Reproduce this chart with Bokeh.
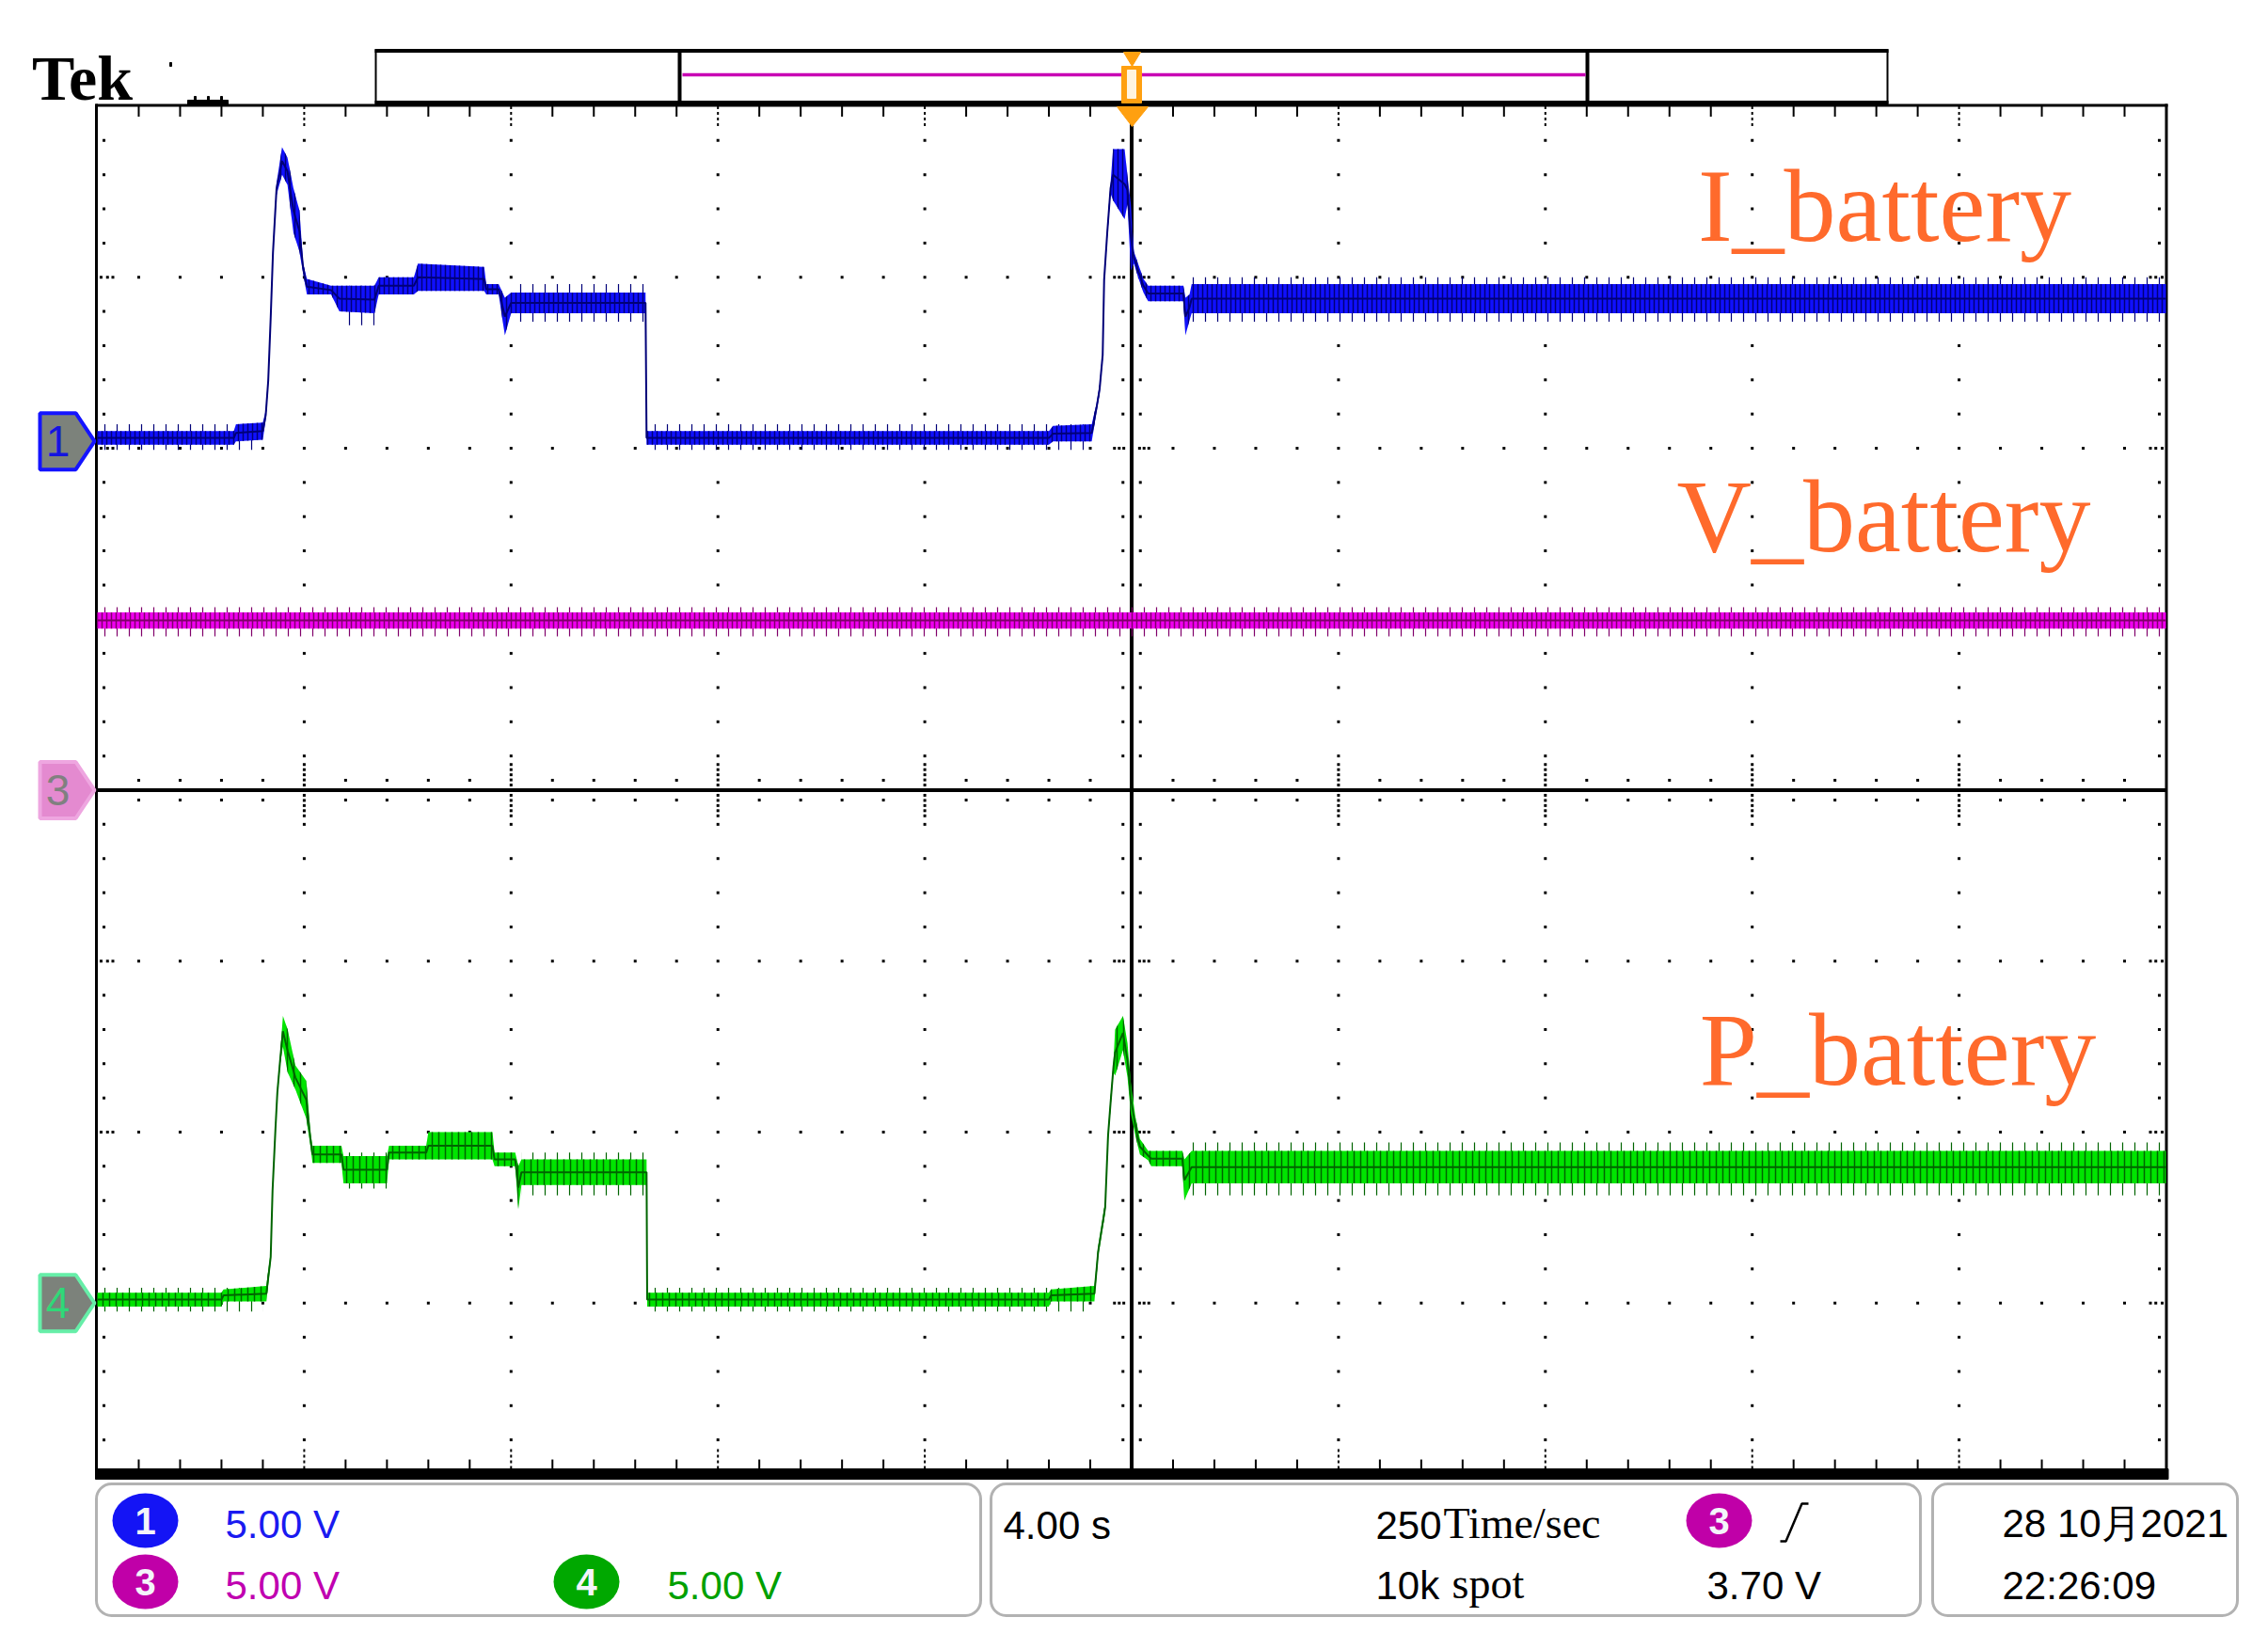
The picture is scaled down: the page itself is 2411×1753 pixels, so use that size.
from bokeh.plotting import figure
from bokeh.models import Range1d, BoxAnnotation
from bokeh.core.properties import value
from bokeh.embed import file_html
from bokeh.resources import INLINE

# ---------------- values (in graticule divisions) -------------
# x: 0..10 divisions (4.00 s/div, trigger at division 5); y: -4..4 divisions (5.00 V/div)
# Channel 1 : I_battery  (envelope of the noisy trace: low / high edge)
i_x  = [0.00, 0.66, 0.67, 0.80, 0.814, 0.826, 0.838, 0.849, 0.866, 0.893, 0.919, 0.948,
        0.977, 0.995, 1.013, 1.13, 1.17, 1.34, 1.36, 1.53, 1.55, 1.87, 1.88, 1.94, 1.97,
        2.00, 2.65, 2.655, 4.60, 4.62, 4.807, 4.83, 4.845, 4.86, 4.867, 4.882, 4.898,
        4.91, 4.966, 4.98, 4.996, 5.011, 5.034, 5.057, 5.08, 5.25, 5.26, 5.28, 5.29, 10.0]
i_lo = [2.02, 2.02, 2.04, 2.05, 2.17, 2.37, 2.74, 3.12, 3.48, 3.60, 3.54, 3.26,
        3.15, 3.02, 2.90, 2.90, 2.80, 2.79, 2.90, 2.90, 2.92, 2.92, 2.90, 2.90, 2.66,
        2.79, 2.79, 2.02, 2.02, 2.04, 2.04, 2.21, 2.32, 2.52, 2.96, 3.23, 3.49,
        3.45, 3.34, 3.43, 3.04, 3.08, 2.99, 2.91, 2.86, 2.86, 2.66, 2.75, 2.79, 2.79]
i_hi = [2.10, 2.10, 2.14, 2.15, 2.22, 2.42, 2.79, 3.17, 3.55, 3.76, 3.70, 3.52,
        3.39, 3.08, 2.99, 2.95, 2.95, 2.95, 3.00, 3.00, 3.08, 3.06, 2.96, 2.96, 2.88,
        2.91, 2.91, 2.10, 2.10, 2.13, 2.14, 2.26, 2.37, 2.57, 3.01, 3.29, 3.55,
        3.75, 3.75, 3.59, 3.43, 3.15, 3.07, 2.99, 2.95, 2.95, 2.88, 2.90, 2.96, 2.96]
# extent of the sparse noise spikes on the flat stretches (x from, x to, low, high)
i_spk_x0 = [0.00, 2.66, 1.17, 2.00, 5.29]
i_spk_x1 = [0.80, 4.80, 1.34, 2.65, 10.0]
i_spk_lo = [1.99, 1.99, 2.72, 2.74, 2.74]
i_spk_hi = [2.14, 2.14, 2.95, 2.96, 3.00]

# Channel 3 : V_battery
v_x  = [0.0, 10.0]
v_lo = [0.945, 0.945]
v_hi = [1.04, 1.04]
v_spk_x0 = [0.0]
v_spk_x1 = [10.0]
v_spk_lo = [0.90]
v_spk_hi = [1.07]

# Channel 4 : P_battery
p_x  = [0.00, 0.60, 0.61, 0.817, 0.838, 0.847, 0.861, 0.870, 0.885, 0.897, 0.92, 0.957,
        1.01, 1.03, 1.04, 1.18, 1.19, 1.40, 1.41, 1.59, 1.60, 1.91, 1.92, 2.02, 2.035,
        2.05, 2.655, 2.658, 4.60, 4.61, 4.82, 4.838, 4.872, 4.886, 4.898, 4.912, 4.92,
        4.958, 4.98, 4.996, 5.018, 5.04, 5.08, 5.095, 5.245, 5.255, 5.29, 10.0]
p_lo = [-3.02, -3.02, -2.99, -2.99, -2.76, -2.37, -2.01, -1.80, -1.59, -1.50, -1.65, -1.75,
        -1.92, -2.08, -2.18, -2.18, -2.30, -2.30, -2.16, -2.16, -2.16, -2.16, -2.20, -2.20, -2.45,
        -2.31, -2.31, -3.02, -3.02, -2.99, -2.99, -2.73, -2.47, -2.05, -1.86, -1.65, -1.67,
        -1.52, -1.68, -1.89, -2.02, -2.13, -2.165, -2.20, -2.20, -2.40, -2.30, -2.30]
p_hi = [-2.94, -2.94, -2.92, -2.90, -2.70, -2.31, -1.95, -1.74, -1.53, -1.32, -1.40, -1.61,
        -1.70, -2.00, -2.08, -2.08, -2.14, -2.14, -2.08, -2.08, -2.00, -2.00, -2.12, -2.12, -2.20,
        -2.16, -2.16, -2.94, -2.94, -2.92, -2.90, -2.67, -2.41, -1.99, -1.80, -1.59, -1.40,
        -1.32, -1.48, -1.71, -1.91, -2.04, -2.11, -2.11, -2.11, -2.16, -2.11, -2.11]
p_spk_x0 = [0.00, 2.66, 1.19, 2.05, 5.29]
p_spk_x1 = [0.80, 4.80, 1.40, 2.65, 10.0]
p_spk_lo = [-3.05, -3.05, -2.33, -2.37, -2.37]
p_spk_hi = [-2.91, -2.91, -2.12, -2.12, -2.06]

# channel ground markers (divisions) and labels
ch_names   = ["1", "3", "4"]
ch_offsets = [2.04, 0.0, -3.0]
trace_labels = ["I_battery", "V_battery", "P_battery"]

# readout texts
scale_texts = ["5.00 V", "5.00 V", "5.00 V"]
time_scale = "4.00 s"
rate_num, rate_unit = "250", "Time/sec"
rec_num, rec_unit = "10k", "spot"
trig_level = "3.70 V"
date_text, time_text = "28 10月2021", "22:26:09"

# ---------------- layout (page pixels -> division coordinates) ----------------
X0, DX = 103.0, 219.9     # page x of division 0, pixels per division
Y0, DY = 839.5, 181.75    # page y of centre line, pixels per division
W, H = 2395, 1737
ORG = 0                   # page position of the figure's top-left corner


def fx(X):
    return (X - X0) / DX


def fy(Y):
    return (Y0 - Y) / DY


def fb(Y, size):
    # baseline position for text of a given pixel size
    return fy(Y - 0.36 * size)


p = figure(width=W, height=H, output_backend="svg", toolbar_location=None,
           x_range=Range1d(fx(ORG), fx(ORG + W)), y_range=Range1d(fy(ORG + H), fy(ORG)),
           min_border=0, x_axis_location=None, y_axis_location=None)
p.xgrid.visible = False
p.ygrid.visible = False
p.outline_line_color = None
p.background_fill_color = "white"
p.border_fill_color = "white"

# ---------------- graticule ----------------
minor_x = [round(0.2 * i, 1) for i in range(1, 50)]
minor_y = [round(-4 + 0.2 * i, 1) for i in range(1, 40)]
major_x = [1, 2, 3, 4, 6, 7, 8, 9]
major_y = [-3, -2, -1, 1, 2, 3]
dots_x, dots_y = [], []


def dot(x, y):
    dots_x.append(x)
    dots_y.append(y)


for y in major_y:
    for x in minor_x:
        if x != 5:
            dot(x, y)
    for x in (0.018, 0.049, 0.075, 9.925, 9.951, 9.982):
        dot(x, y)
    for off in (0.038, 0.06, 0.083):
        dot(5 - off, y)
        dot(5 + off, y)
for x in major_x:
    for y in minor_y:
        if y not in major_y and y != 0:
            dot(x, y)
for y in minor_y:
    if y not in major_y and y != 0:
        dot(0.032, y)
        dot(9.968, y)
        dot(5 - 0.042, y)
        dot(5 + 0.042, y)
for x in minor_x:
    if x not in major_x and x != 5:
        dot(x, 0.058)
        dot(x, -0.058)
for x in major_x:
    for k in (0.03, 0.06, 0.09, 0.12, 0.15):
        dot(x, k)
        dot(x, -k)
p.scatter(dots_x, dots_y, marker="square", size=3, color="black", line_width=0)

# border ticks
tmx = [x for x in minor_x if x not in major_x and x != 5]
p.segment(x0=tmx, y0=[4.0] * len(tmx), x1=tmx, y1=[3.94] * len(tmx), line_color="black", line_width=2)
p.segment(x0=tmx, y0=[-3.97] * len(tmx), x1=tmx, y1=[-3.915] * len(tmx), line_color="black", line_width=2)
p.segment(x0=major_x, y0=[4.0] * 8, x1=major_x, y1=[3.87] * 8, line_color="black", line_width=2, line_dash="3 3")
p.segment(x0=major_x, y0=[-3.97] * 8, x1=major_x, y1=[-3.85] * 8, line_color="black", line_width=2, line_dash="3 3")

# centre cross
p.segment(x0=[0, 5], y0=[0, -4], x1=[10, 5], y1=[0, 4], line_color="black", line_width=4)

# frame
p.segment(x0=[fx(101), fx(102), fx(2302.5)], y0=[fy(111.5), fy(110), fy(110)],
          x1=[fx(2304), fx(102), fx(2302.5)], y1=[fy(111.5), fy(1566), fy(1566)],
          line_color="black", line_width=3)
p.quad(left=fx(101), right=fx(2304.5), top=fy(1561), bottom=fy(1572), color="black")

# ---------------- traces ----------------
traces = [
    (v_x, v_lo, v_hi, (v_spk_x0, v_spk_x1, v_spk_lo, v_spk_hi), "#F000F0", "#80006A", 5),
    (i_x, i_lo, i_hi, (i_spk_x0, i_spk_x1, i_spk_lo, i_spk_hi), "#1010FF", "#000078", 5),
    (p_x, p_lo, p_hi, (p_spk_x0, p_spk_x1, p_spk_lo, p_spk_hi), "#00E400", "#006400", 7),
]
for xs, lo, hi, spk, bright, dark, hs in traces:
    x0s, x1s, slo, shi = spk
    p.quad(left=x0s, right=x1s, bottom=slo, top=shi, fill_alpha=0, line_color=None,
           hatch_pattern="|", hatch_color=dark, hatch_scale=13, hatch_weight=1.2)
    p.varea(x=xs, y1=lo, y2=hi, fill_color=bright, hatch_pattern="|",
            hatch_color=dark, hatch_scale=hs, hatch_weight=1.5)
    mid = [(a + b) / 2 for a, b in zip(lo, hi)]
    p.line(xs, mid, line_color=dark, line_width=2)

# trace labels
LS = 110
lab_cx = [fx(2003), fx(2002), fx(2017)]
lab_by = [fb(258, LS), fb(588, LS), fb(1155, LS)]
p.text(x=lab_cx, y=lab_by, text=trace_labels, text_font=value("Liberation Serif"),
       text_font_size=f"{LS}px", text_color="#FF6A2C", text_align="center",
       text_baseline="alphabetic")

# ---------------- top strip ----------------
p.text(x=[fx(87)], y=[fb(107, 68)], text=["Tek"], text_font=value("Liberation Serif"),
       text_font_style="bold", text_font_size="68px", text_color="black",
       text_align="center", text_baseline="alphabetic")
p.quad(left=fx(199), right=fx(242), top=fy(106), bottom=fy(110.5), color="black")
p.quad(left=[fx(206), fx(220), fx(234)], right=[fx(208), fx(222), fx(236)],
       top=[fy(102)] * 3, bottom=[fy(106)] * 3, color="black")
p.quad(left=fx(180), right=fx(182), top=fy(66), bottom=fy(70), color="black")

# record bar
p.segment(x0=[fx(398), fx(398)], y0=[fy(53.5), fy(108.5)], x1=[fx(2007), fx(2007)],
          y1=[fy(53.5), fy(108.5)], line_color="black", line_width=4)
p.segment(x0=[fx(399), fx(2006)], y0=[fy(52), fy(52)], x1=[fx(399), fx(2006)],
          y1=[fy(110), fy(110)], line_color="black", line_width=2)
p.segment(x0=[fx(722), fx(1687)], y0=[fy(55), fy(55)], x1=[fx(722), fx(1687)],
          y1=[fy(107), fy(107)], line_color="black", line_width=4)
p.segment(x0=[fx(725)], y0=[fy(79)], x1=[fx(1685)], y1=[fy(79)], line_color="#C800B4", line_width=3.5)

# trigger position markers
orange = "#FFA010"
p.patch([fx(1194), fx(1212), fx(1203)], [fy(55), fy(55), fy(70)], color=orange)
p.quad(left=fx(1192), right=fx(1213), top=fy(70), bottom=fy(109), color=orange)
p.quad(left=fx(1198), right=fx(1207), top=fy(74), bottom=fy(104), color="#FFF4E0")
p.patch([fx(1187), fx(1220), fx(1203)], [fy(113), fy(113), fy(134)], color=orange)

# ---------------- channel ground markers ----------------
sans = value("Liberation Sans")
mk_fill = ["#7C827B", "#E48AD0", "#7C827B"]
mk_line = ["#1414FF", "#EEA6E0", "#66EEA8"]
mk_text = ["#1414E0", "#808080", "#30D878"]
for name, off, fc, lc, tc in zip(ch_names, ch_offsets, mk_fill, mk_line, mk_text):
    Yc = Y0 - off * DY
    xs = [fx(42), fx(80), fx(100), fx(80), fx(42)]
    ys = [fy(Yc - 30), fy(Yc - 30), fy(Yc), fy(Yc + 30), fy(Yc + 30)]
    p.patch(xs, ys, fill_color=fc, line_color=lc, line_width=4)
    p.text(x=[fx(61)], y=[off], text=[name], text_font=sans,
           text_font_size="46px", text_color=tc, text_align="center", text_baseline="middle")

# ---------------- bottom readout ----------------
for l, r in ((102, 1042), (1053, 2041), (2054, 2378)):
    p.add_layout(BoxAnnotation(left=fx(l), right=fx(r), top=fy(1577), bottom=fy(1717),
                               fill_alpha=0, line_color="black", line_width=3, border_radius=16))

circ_x = [fx(154), fx(154), fx(623), fx(1827)]
circ_y = [fy(1616), fy(1681), fy(1681), fy(1616)]
circ_c = ["#1414F5", "#C000A8", "#00A800", "#C000A8"]
circ_t = ["1", "3", "4", "3"]
p.ellipse(x=circ_x, y=circ_y, width=70, height=58, width_units="screen",
          height_units="screen", fill_color=circ_c, line_color=None)
p.text(x=circ_x, y=circ_y, text=circ_t, text_font=sans, text_font_style="bold",
       text_font_size="40px", text_color="#F4F4FA", text_align="center", text_baseline="middle")

FS = 42
p.text(x=[fx(239), fx(239), fx(709)], y=[fb(1635, FS), fb(1700, FS), fb(1700, FS)], text=scale_texts,
       text_font=sans, text_font_size=f"{FS}px", text_color=["#1A1AF0", "#C000B0", "#00A000"],
       text_align="left", text_baseline="alphabetic")
p.text(x=[fx(1066), fx(1462), fx(1462), fx(1814), fx(2128), fx(2128)],
       y=[fb(1636, FS), fb(1636, FS), fb(1700, FS), fb(1700, FS), fb(1634, FS), fb(1700, FS)],
       text=[time_scale, rate_num, rec_num, trig_level, date_text, time_text],
       text_font=sans, text_font_size=f"{FS}px", text_color="black",
       text_align="left", text_baseline="alphabetic")
p.text(x=[fx(1534), fx(1543)], y=[fb(1636, 46), fb(1700, 46)], text=[rate_unit, rec_unit],
       text_font=value("Liberation Serif"), text_font_size="46px", text_color="black",
       text_align="left", text_baseline="alphabetic")
# rising-edge trigger symbol
p.line([fx(1892), fx(1898), fx(1915), fx(1922)], [fy(1638), fy(1638), fy(1598), fy(1598)],
       line_color="black", line_width=2.5)

open("out.html", "w").write(file_html(p, INLINE))
